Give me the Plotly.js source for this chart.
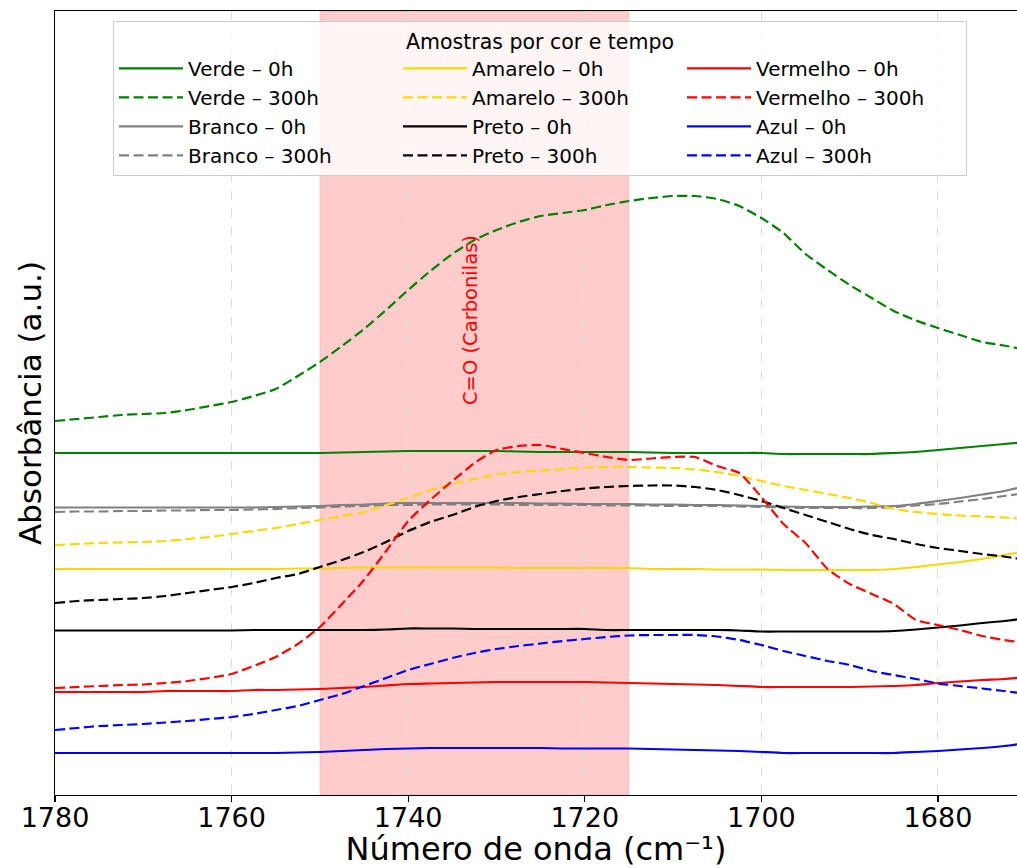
<!DOCTYPE html>
<html>
<head>
<meta charset="utf-8">
<script src="https://cdn.plot.ly/plotly-3.0.1.min.js"></script>
<style>html,body{margin:0;padding:0;background:#fff;}#chart{width:1017px;height:868px;}</style>
</head>
<body>
<div id="chart"></div>
<script>
// Wavenumber grid (cm^-1)
var wavenumber = [1780,1777.5,1775,1772.5,1770,1767.5,1765,1762.5,1760,1757.5,1755,1752.5,1750,1747.5,1745,1742.5,1740,1737.5,1735,1732.5,1730,1727.5,1725,1722.5,1720,1717.5,1715,1712.5,1710,1707.5,1705,1702.5,1700,1697.5,1695,1692.5,1690,1687.5,1685,1682.5,1680,1677.5,1675,1672.5,1670];

// Absorbance (a.u., offset spectra)
var verde0h = [3.42,3.42,3.42,3.42,3.42,3.42,3.42,3.42,3.42,3.42,3.42,3.42,3.42,3.425,3.43,3.435,3.44,3.44,3.44,3.44,3.44,3.435,3.43,3.43,3.43,3.43,3.43,3.425,3.42,3.42,3.42,3.42,3.42,3.41,3.41,3.41,3.41,3.41,3.42,3.43,3.45,3.47,3.49,3.51,3.53];
var verde300h = [3.74,3.76,3.78,3.80,3.81,3.82,3.85,3.89,3.93,3.99,4.06,4.19,4.33,4.49,4.66,4.85,5.05,5.24,5.41,5.55,5.65,5.73,5.79,5.82,5.85,5.90,5.94,5.97,5.99,5.99,5.96,5.89,5.77,5.62,5.41,5.25,5.10,4.97,4.84,4.745,4.67,4.60,4.53,4.495,4.45];
var branco0h = [2.875,2.875,2.875,2.875,2.875,2.875,2.875,2.875,2.875,2.875,2.88,2.885,2.89,2.90,2.905,2.915,2.92,2.92,2.92,2.92,2.92,2.92,2.915,2.915,2.91,2.91,2.91,2.905,2.905,2.90,2.90,2.895,2.89,2.885,2.88,2.88,2.88,2.885,2.89,2.91,2.94,2.97,3.005,3.04,3.09];
var branco300h = [2.83,2.835,2.835,2.84,2.84,2.845,2.845,2.85,2.85,2.855,2.86,2.87,2.875,2.885,2.89,2.90,2.90,2.905,2.905,2.905,2.905,2.90,2.90,2.90,2.90,2.895,2.895,2.895,2.89,2.89,2.89,2.885,2.88,2.875,2.87,2.87,2.87,2.87,2.88,2.895,2.91,2.935,2.96,2.99,3.02];
var amarelo0h = [2.26,2.26,2.26,2.26,2.26,2.26,2.26,2.26,2.26,2.26,2.26,2.265,2.265,2.27,2.275,2.275,2.275,2.275,2.275,2.275,2.275,2.27,2.27,2.27,2.27,2.27,2.27,2.26,2.26,2.26,2.255,2.255,2.255,2.25,2.25,2.25,2.25,2.25,2.26,2.28,2.305,2.33,2.36,2.40,2.44];
var amarelo300h = [2.50,2.51,2.52,2.525,2.53,2.54,2.56,2.58,2.61,2.64,2.67,2.71,2.75,2.79,2.83,2.90,2.97,3.05,3.11,3.16,3.205,3.23,3.245,3.26,3.275,3.28,3.28,3.275,3.27,3.255,3.23,3.19,3.14,3.09,3.05,3.01,2.97,2.92,2.86,2.83,2.81,2.795,2.785,2.775,2.76];
var preto0h = [1.645,1.645,1.645,1.645,1.645,1.645,1.645,1.645,1.645,1.65,1.65,1.65,1.65,1.65,1.65,1.655,1.665,1.665,1.665,1.66,1.66,1.66,1.66,1.66,1.66,1.65,1.65,1.65,1.65,1.65,1.65,1.645,1.635,1.635,1.635,1.635,1.635,1.635,1.64,1.655,1.675,1.695,1.72,1.74,1.77];
var preto300h = [1.92,1.94,1.95,1.96,1.97,1.99,2.02,2.05,2.08,2.12,2.17,2.21,2.28,2.35,2.43,2.53,2.64,2.73,2.80,2.88,2.94,2.98,3.01,3.04,3.065,3.08,3.09,3.095,3.095,3.08,3.05,3.00,2.94,2.87,2.80,2.73,2.66,2.60,2.56,2.51,2.47,2.44,2.41,2.385,2.35];
var vermelho0h = [1.03,1.03,1.03,1.03,1.03,1.04,1.04,1.04,1.04,1.05,1.05,1.055,1.06,1.07,1.08,1.095,1.11,1.115,1.12,1.125,1.13,1.13,1.13,1.13,1.13,1.125,1.12,1.115,1.11,1.105,1.10,1.09,1.08,1.08,1.08,1.08,1.08,1.085,1.09,1.10,1.12,1.135,1.15,1.16,1.18];
var vermelho300h = [1.07,1.08,1.09,1.10,1.105,1.12,1.14,1.17,1.21,1.29,1.38,1.51,1.68,1.91,2.15,2.44,2.74,2.95,3.14,3.32,3.45,3.49,3.50,3.46,3.42,3.38,3.35,3.365,3.38,3.38,3.29,3.22,2.98,2.71,2.52,2.26,2.11,2.01,1.91,1.75,1.70,1.65,1.59,1.55,1.52];
var azul0h = [0.42,0.42,0.42,0.42,0.42,0.42,0.42,0.42,0.42,0.42,0.42,0.425,0.43,0.44,0.45,0.46,0.465,0.47,0.47,0.47,0.47,0.47,0.47,0.465,0.465,0.465,0.465,0.46,0.455,0.45,0.445,0.44,0.43,0.42,0.42,0.42,0.42,0.42,0.42,0.43,0.44,0.455,0.47,0.49,0.52];
var azul300h = [0.65,0.67,0.69,0.70,0.71,0.725,0.74,0.76,0.78,0.81,0.85,0.89,0.95,1.01,1.09,1.17,1.25,1.31,1.37,1.42,1.46,1.49,1.515,1.54,1.56,1.58,1.595,1.60,1.60,1.60,1.585,1.55,1.50,1.44,1.39,1.34,1.30,1.24,1.20,1.16,1.115,1.09,1.065,1.04,1.01];

var xTicks = [1780,1760,1740,1720,1700,1680];
var bandRange = [1750, 1715];

var FONT = 'DejaVu Sans, sans-serif';

function tr(name, y, color, dashed, rank) {
  return {
    type: 'scatter', mode: 'lines', x: wavenumber, y: y, name: name,
    legendrank: rank,
    line: {color: color, width: 2.2, dash: dashed ? '10px,4.5px' : 'solid', shape: 'spline', smoothing: 0.5},
    hoverinfo: 'skip'
  };
}

var data = [
  tr('Verde – 0h', verde0h, '#008000', false, 1),
  tr('Verde – 300h', verde300h, '#008000', true, 4),
  tr('Branco – 0h', branco0h, '#808080', false, 7),
  tr('Branco – 300h', branco300h, '#808080', true, 10),
  tr('Amarelo – 0h', amarelo0h, '#FFD700', false, 2),
  tr('Amarelo – 300h', amarelo300h, '#FFD700', true, 5),
  tr('Preto – 0h', preto0h, '#000000', false, 8),
  tr('Preto – 300h', preto300h, '#000000', true, 11),
  tr('Vermelho – 0h', vermelho0h, '#FF0000', false, 3),
  tr('Vermelho – 300h', vermelho300h, '#FF0000', true, 6),
  tr('Azul – 0h', azul0h, '#0000FF', false, 9),
  tr('Azul – 300h', azul300h, '#0000FF', true, 12)
];

var layout = {
  width: 1017, height: 868,
  margin: {l: 55, r: 0, t: 11, b: 73, pad: 0},
  paper_bgcolor: '#ffffff', plot_bgcolor: '#ffffff',
  font: {family: FONT, color: '#000000'},
  showlegend: true,
  xaxis: {
    range: [1780, 1671.05], autorange: false,
    tickvals: xTicks, ticktext: xTicks.map(String),
    ticks: 'outside', ticklen: 6, tickwidth: 1.2, tickcolor: '#000',
    ticklabelstandoff: -8,
    tickfont: {family: FONT, size: 27, color: '#000'},
    showline: true, linecolor: '#000', linewidth: 1.2, mirror: true,
    showgrid: true, gridcolor: '#dcdcdc', gridwidth: 1, griddash: 'dash',
    zeroline: false,
    title: {text: 'Número de onda (cm⁻¹)', font: {family: FONT, size: 32, color: '#000'}, standoff: 6}
  },
  yaxis: {
    range: [0, 7.84], autorange: false,
    showticklabels: false, ticks: '',
    showline: true, linecolor: '#000', linewidth: 1.2,
    showgrid: false, zeroline: false,
    title: {text: 'Absorbância (a.u.)', font: {family: FONT, size: 31, color: '#000'}, standoff: 3}
  },
  legend: {
    orientation: 'h',
    x: 0.0603, y: 0.987, xanchor: 'left', yanchor: 'top',
    bgcolor: 'rgba(255,255,255,0.8)', bordercolor: '#cccccc', borderwidth: 1,
    font: {family: FONT, size: 20, color: '#000'},
    title: {text: 'Amostras por cor e tempo', side: 'top center', font: {family: FONT, size: 20.5, color: '#000'}},
    itemwidth: 64, entrywidth: 205, entrywidthmode: 'pixels',
    traceorder: 'normal', tracegroupgap: 0
  },
  shapes: [{
    type: 'rect', xref: 'x', yref: 'paper', x0: bandRange[0], x1: bandRange[1], y0: 0, y1: 1,
    fillcolor: 'rgba(255,0,0,0.2)', line: {color: 'rgba(255,0,0,0.12)', width: 1}, layer: 'below'
  }],
  annotations: [{
    x: 1733, y: 4.75, xref: 'x', yref: 'y', text: 'C=O (Carbonilas)', textangle: -90,
    showarrow: false, font: {family: FONT, size: 19.5, color: '#FF0000'}
  }]
};

Plotly.newPlot('chart', data, layout, {displayModeBar: false, staticPlot: true});
</script>
</body>
</html>
